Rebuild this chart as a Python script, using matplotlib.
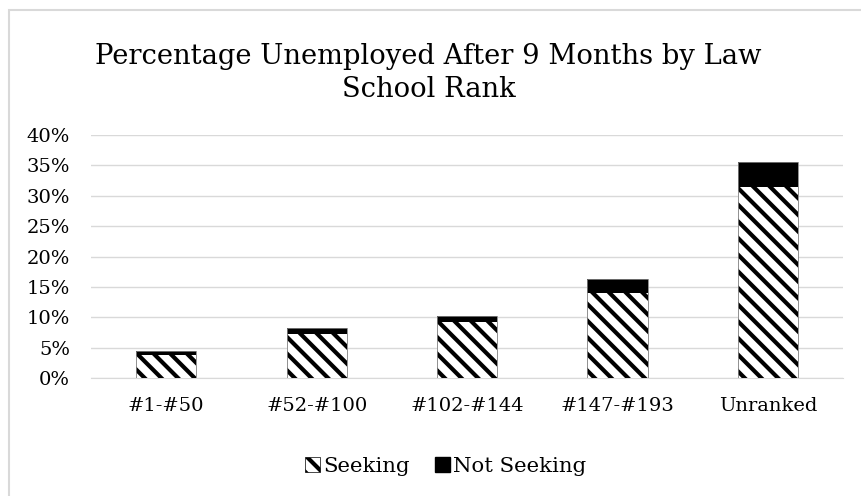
import matplotlib.pyplot as plt
from matplotlib.patches import Rectangle, Patch
from matplotlib.ticker import PercentFormatter

# Data (percent unemployed)
ranks = ["#1-#50", "#52-#100", "#102-#144", "#147-#193", "Unranked"]
seeking = [3.8, 7.2, 9.2, 14.0, 31.4]
not_seeking = [0.6, 1.0, 1.0, 2.3, 4.1]

plt.rcParams['font.family'] = ['DejaVu Serif']
plt.rcParams['hatch.color'] = 'black'
plt.rcParams['hatch.linewidth'] = 3.0

fig = plt.figure(figsize=(8.62, 4.96), dpi=100)
ax = fig.add_axes([0.1056, 0.2379, 0.8724, 0.4899])

x = range(len(ranks))
ax.bar(x, seeking, width=0.4, color='white', hatch='\\\\', linewidth=0, zorder=3)
ax.bar(x, not_seeking, width=0.4, bottom=seeking, color='black', linewidth=0, zorder=3)
# thin grey outline round each stack
for i in x:
    ax.add_patch(Rectangle((i - 0.2, 0), 0.4, seeking[i] + not_seeking[i],
                           fill=False, edgecolor='#7f7f7f', linewidth=0.6, zorder=4))

ax.set_xlim(-0.5, len(ranks) - 0.5)
ax.set_ylim(0, 40)
ax.set_yticks(range(0, 41, 5))
ax.yaxis.set_major_formatter(PercentFormatter(decimals=0))
ax.set_xticks(list(x))
ax.set_xticklabels(ranks)
ax.tick_params(axis='both', length=0, labelsize=14)
ax.tick_params(axis='y', pad=15)
ax.tick_params(axis='x', pad=14)
ax.grid(axis='y', color='#d9d9d9', linewidth=1, zorder=0)
for s in ['top', 'right', 'left']:
    ax.spines[s].set_visible(False)
ax.spines['bottom'].set_color('#d9d9d9')

fig.text(0.497, 0.853, "Percentage Unemployed After 9 Months by Law\nSchool Rank",
         ha='center', va='center', fontsize=19.7, linespacing=1.3)

handles = [Patch(facecolor='white', hatch='\\\\', edgecolor='black', linewidth=0.5, label='Seeking'),
           Patch(facecolor='black', edgecolor='black', label='Not Seeking')]
fig.legend(handles=handles, loc='center', bbox_to_anchor=(0.517, 0.06), ncol=2,
           frameon=False, fontsize=15.3, handlelength=0.7, handleheight=0.7,
           handletextpad=0.15, columnspacing=1.2)

# chart frame (only top and left edges are inside the picture)
fig.patches.append(Rectangle((9 / 862, -0.1), 1.2, 1 - 10 / 496 + 0.1,
                             transform=fig.transFigure, fill=False,
                             edgecolor='#d9d9d9', linewidth=1.5))

fig.savefig("out.png", dpi=100)
